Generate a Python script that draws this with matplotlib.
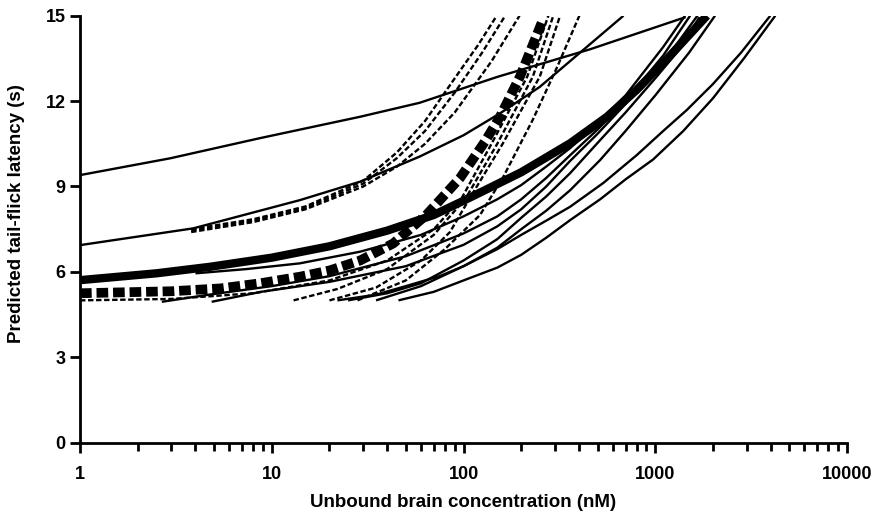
import matplotlib
matplotlib.use("Agg")
import matplotlib.pyplot as plt
from matplotlib.ticker import LogLocator, NullFormatter, FixedLocator

# concentration (nM) / latency (s) pairs
# thin solid curves
a_conc = [1, 2.95, 8.7, 28.9, 59, 150, 457, 1440]
a_lat = [9.40, 9.99, 10.70, 11.45, 11.94, 12.85, 13.82, 14.95]
b_conc = [1, 3.9, 14, 28.9, 59, 100, 155, 250, 457, 683]
b_lat = [6.94, 7.53, 8.52, 9.17, 10.05, 10.8, 11.57, 12.5, 14.0, 15.0]
s1_conc = [2.67, 4.6, 10, 20, 50, 100, 150, 200, 270, 360, 500, 700, 1100, 1520]
s1_lat = [4.95, 5.19, 5.5, 5.85, 6.55, 7.35, 7.95, 8.55, 9.3, 10.1, 11.0, 12.0, 13.6, 15.0]
s2_conc = [4.86, 8.8, 20, 50, 100, 150, 200, 270, 360, 500, 700, 1200, 1660]
s2_lat = [4.95, 5.3, 5.65, 6.2, 6.95, 7.6, 8.2, 9.0, 9.9, 10.85, 11.9, 13.7, 15.0]
s3_conc = [4, 7.4, 14, 28.9, 60, 100, 150, 200, 270, 360, 500, 700, 1100, 1430]
s3_lat = [5.95, 6.1, 6.3, 6.71, 7.3, 7.95, 8.55, 9.05, 9.7, 10.35, 11.2, 12.2, 13.9, 15.0]
s4_conc = [35, 60, 100, 150, 200, 270, 360, 516, 700, 1000, 1500, 2050]
s4_lat = [5.0, 5.5, 6.2, 6.85, 7.5, 8.15, 8.87, 9.93, 10.95, 12.2, 13.7, 15.0]
s5_conc = [25, 40, 60, 100, 150, 200, 270, 360, 516, 700, 1000, 1350, 1700]
s5_lat = [5.0, 5.25, 5.6, 6.4, 7.15, 7.9, 8.65, 9.47, 10.63, 11.6, 12.8, 13.85, 14.95]
s6_conc = [45.8, 70, 100, 150, 200, 270, 360, 516, 700, 975, 1400, 2000, 2900, 4227]
s6_lat = [5.0, 5.3, 5.7, 6.15, 6.6, 7.2, 7.82, 8.55, 9.25, 9.95, 10.95, 12.1, 13.5, 15.0]
s7_conc = [22, 35, 50, 75, 100, 150, 200, 270, 360, 535, 800, 1100, 1462, 2000, 2800, 3981]
s7_lat = [5.0, 5.2, 5.5, 5.85, 6.2, 6.8, 7.3, 7.8, 8.29, 9.12, 10.1, 10.95, 11.69, 12.6, 13.7, 15.0]

# thin dashed curves
d1_conc = [3.8, 8, 15, 30, 45, 63, 90, 120, 149]
d1_lat = [7.5, 7.85, 8.3, 9.2, 10.2, 11.3, 12.8, 14.0, 15.0]
d2_conc = [3.8, 8, 15, 30, 45, 63, 90, 125, 165]
d2_lat = [7.45, 7.8, 8.25, 9.1, 10.0, 10.95, 12.3, 13.7, 15.0]
d3_conc = [3.8, 8, 15, 30, 45, 63, 90, 140, 196]
d3_lat = [7.4, 7.75, 8.2, 9.0, 9.7, 10.5, 11.6, 13.4, 15.0]
d4_conc = [1, 3, 8, 20, 40, 70, 98, 140, 215, 277]
d4_lat = [5.0, 5.05, 5.25, 5.7, 6.4, 7.5, 8.6, 10.5, 12.86, 15.0]
d5_conc = [13, 22, 40, 70, 103, 150, 230, 294]
d5_lat = [5.0, 5.4, 6.1, 7.3, 8.6, 10.5, 12.86, 15.0]
d6_conc = [20, 35, 60, 85, 108, 160, 250, 319]
d6_lat = [5.0, 5.45, 6.4, 7.4, 8.6, 10.5, 12.86, 15.0]
d7_conc = [28, 50, 80, 122, 161, 230, 308, 402]
d7_lat = [5.0, 5.7, 6.8, 8.0, 9.33, 11.35, 13.2, 15.0]

# thick curves
t_conc = [1, 2.5, 4.77, 10, 20, 40, 70, 100, 200, 360, 560, 802, 1196, 1860]
t_lat = [5.71, 5.95, 6.18, 6.5, 6.9, 7.45, 8.0, 8.5, 9.5, 10.52, 11.45, 12.4, 13.6, 15.0]
td_conc = [1, 3, 5.4, 8.7, 14, 20, 28.9, 43, 64, 96, 130, 155, 197, 261]
td_lat = [5.25, 5.32, 5.42, 5.6, 5.83, 6.05, 6.4, 7.0, 8.0, 9.3, 10.6, 11.45, 12.86, 14.9]

solid = [(a_conc, a_lat), (b_conc, b_lat), (s1_conc, s1_lat), (s2_conc, s2_lat),
         (s3_conc, s3_lat), (s4_conc, s4_lat), (s5_conc, s5_lat), (s6_conc, s6_lat),
         (s7_conc, s7_lat)]
dashed = [(d1_conc, d1_lat), (d2_conc, d2_lat), (d3_conc, d3_lat), (d4_conc, d4_lat),
          (d5_conc, d5_lat), (d6_conc, d6_lat), (d7_conc, d7_lat)]

plt.rcParams['font.family'] = ['Liberation Sans', 'DejaVu Sans']
plt.rcParams['font.weight'] = 'bold'

fig = plt.figure(figsize=(8.91, 5.14), dpi=100)
ax = fig.add_axes([80 / 891, 1 - 442.7 / 514, (847 - 80) / 891, (442.7 - 15.7) / 514])

for c, y in solid:
    ax.plot(c, y, color='black', lw=1.7, solid_capstyle='butt', solid_joinstyle='round')
for c, y in dashed:
    ax.plot(c, y, color='black', lw=1.7, ls=(0, (2.3, 1.1)))
ax.plot(t_conc, t_lat, color='black', lw=6, solid_capstyle='butt', solid_joinstyle='round')
ax.plot(td_conc, td_lat, color='black', lw=7, ls=(0, (1.2, 0.5)))

ax.set_xscale('log')
ax.set_xlim(1, 10000)
ax.set_ylim(0, 15)
ax.yaxis.set_major_locator(FixedLocator([0, 3, 6, 9, 12, 15]))
ax.xaxis.set_major_locator(FixedLocator([1, 10, 100, 1000, 10000]))
ax.set_xticklabels(['1', '10', '100', '1000', '10000'])
ax.xaxis.set_minor_locator(LogLocator(base=10, subs=range(2, 10)))
ax.xaxis.set_minor_formatter(NullFormatter())

for s in ['top', 'right']:
    ax.spines[s].set_visible(False)
for s in ['left', 'bottom']:
    ax.spines[s].set_linewidth(2)
ax.tick_params(which='major', direction='out', length=7, width=2, labelsize=13)
ax.tick_params(which='minor', direction='out', length=6, width=2)
ax.tick_params(axis='x', pad=10)

ax.set_xlabel('Unbound brain concentration (nM)', fontsize=13.5, fontweight='bold', labelpad=8)
ax.set_ylabel('Predicted tail-flick latency (s)', fontsize=13.5, fontweight='bold')
ax.yaxis.set_label_coords(-0.072, 0.536)

fig.savefig('out.png', dpi=100)
